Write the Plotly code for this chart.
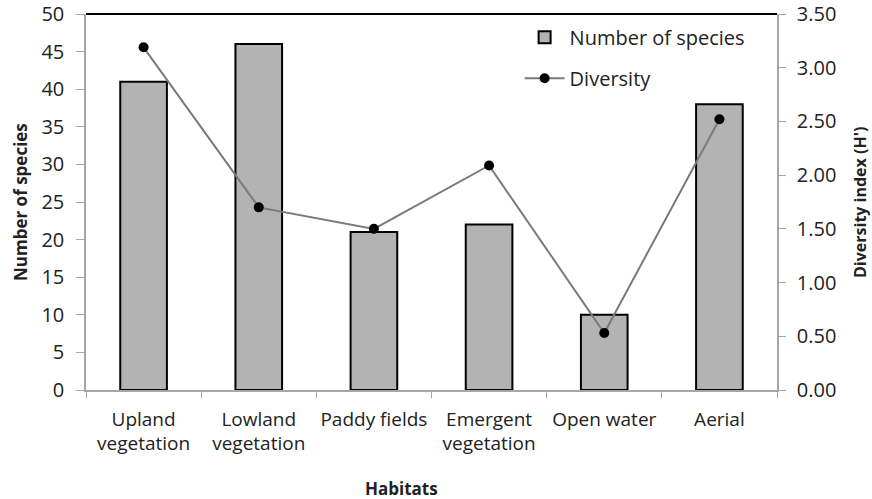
import plotly.graph_objects as go

habitats = ["Upland<br>vegetation", "Lowland<br>vegetation", "Paddy fields",
            "Emergent<br>vegetation", "Open water", "Aerial"]
species = [41, 46, 21, 22, 10, 38]
diversity = [3.19, 1.70, 1.50, 2.09, 0.53, 2.52]
left_ticks = list(range(0, 51, 5))
right_ticks = [0, 0.5, 1.0, 1.5, 2.0, 2.5, 3.0, 3.5]

FONT = "'Open Sans', sans-serif"
TXT = "#222222"
AX = "#a6a6a6"

fig = go.Figure()
fig.add_trace(go.Bar(
    x=habitats, y=species, name="Number of species",
    marker=dict(color="#b3b3b3", line=dict(color="black", width=2)),
    legendgroup="a", yaxis="y",
))
fig.add_trace(go.Scatter(
    x=habitats, y=diversity, name="Diversity", mode="lines+markers",
    line=dict(color="#7a7a7a", width=2),
    marker=dict(color="black", size=10),
    legendgroup="b", yaxis="y2",
))

fig.update_layout(
    width=872, height=499,
    margin=dict(l=86, r=95, t=14, b=109, autoexpand=False),
    paper_bgcolor="white", plot_bgcolor="white",
    font=dict(family=FONT, size=20, color=TXT),
    bargap=0.595,
    showlegend=True,
    legend=dict(x=0.6275, y=0.99, xanchor="left", yanchor="top",
                bgcolor="rgba(0,0,0,0)", tracegroupgap=12,
                font=dict(size=20, color=TXT), itemwidth=40),
    xaxis=dict(
        showline=True, linecolor=AX, linewidth=1.5, automargin=False,
        ticks="outside", tickson="boundaries", ticklen=6, tickcolor=AX,
        tickfont=dict(size=19, color=TXT), showgrid=False,
        ticklabelstandoff=11, tickangle=0,
    ),
    yaxis=dict(
        range=[0, 50], tickvals=left_ticks, showgrid=False, automargin=False,
        showline=True, linecolor=AX, linewidth=1.5,
        ticks="outside", ticklen=8, tickcolor=AX,
        tickfont=dict(size=20, color=TXT), ticklabelstandoff=8,
        ticklabeloverflow="allow", zeroline=False,
    ),
    yaxis2=dict(
        range=[0, 3.5], tickvals=right_ticks, tickformat=".2f", automargin=False,
        overlaying="y", side="right", showgrid=False,
        showline=True, linecolor=AX, linewidth=1.5,
        ticks="outside", ticklen=7, tickcolor=AX,
        tickfont=dict(size=20, color=TXT), ticklabelstandoff=7,
        ticklabeloverflow="allow", zeroline=False,
    ),
    shapes=[dict(type="line", xref="paper", yref="paper", x0=0, x1=1, y0=1, y1=1,
                 line=dict(color="black", width=2))],
    annotations=[
        dict(text="<b>Habitats</b>", xref="paper", yref="paper",
             x=0.456, y=-0.263, xanchor="center", yanchor="middle",
             showarrow=False, font=dict(size=17, color=TXT)),
        dict(text="<b>Number of species</b>", xref="paper", yref="paper",
             x=-0.0955, y=0.5, xanchor="center", yanchor="middle", textangle=-90,
             showarrow=False, font=dict(size=17, color=TXT)),
        dict(text="<b>Diversity index (H')</b>", xref="paper", yref="paper",
             x=1.1201, y=0.5, xanchor="center", yanchor="middle", textangle=-90,
             showarrow=False, font=dict(size=16, color=TXT)),
    ],
)

fig.write_html("out.html", config={"displayModeBar": False},
               post_script="document.body.style.margin='0';document.body.style.overflow='hidden';")
